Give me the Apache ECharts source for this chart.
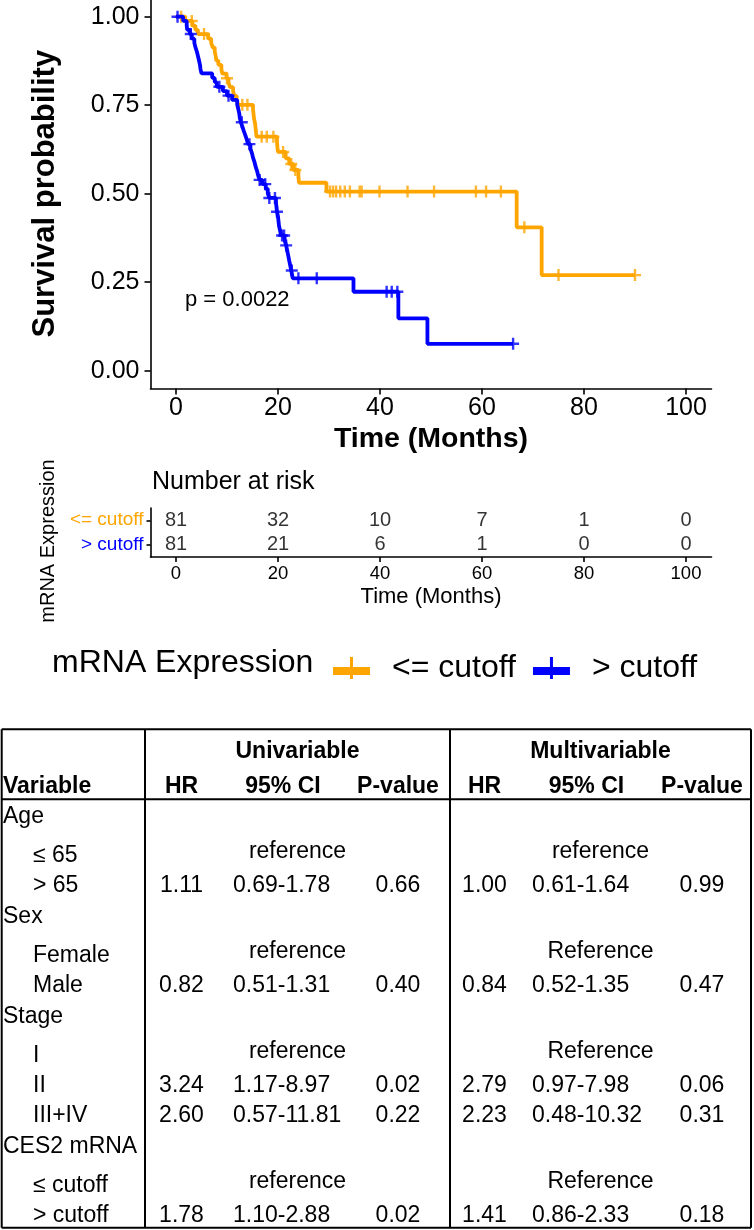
<!DOCTYPE html>
<html><head><meta charset="utf-8">
<script src="https://cdn.jsdelivr.net/npm/echarts@6/dist/echarts.min.js"></script>
<style>html,body{margin:0;padding:0;background:#fff}#c{width:754px;height:1230px}</style>
</head><body><div id="c"></div>
<script>
// ---------------- DATA ----------------
const strata = ['<= cutoff', '> cutoff'];
const strataColors = ['#FFA500', '#0000FF'];
const legendTitle = 'mRNA Expression';

// "<= cutoff" group: KM event times (months) and survival after each event
const lowEventTimes = [1.8, 3.2, 3.8, 4.3, 6.3, 6.9, 7.2, 7.6, 7.8, 7.9, 8.3, 8.9, 9.1, 9.9, 10.3, 10.6, 11.2, 11.5, 11.9, 12.2,
  15.1, 15.2, 15.3, 15.5, 15.6, 15.7, 15.8, 19.8, 19.9, 20.0, 21.5, 22.2, 23.0, 24.0, 24.1, 29.5, 66.8, 71.7];
const lowSurv = [0.988, 0.975, 0.963, 0.951, 0.938, 0.926, 0.913, 0.901, 0.888, 0.876, 0.864, 0.851, 0.839, 0.826, 0.814, 0.801, 0.789, 0.776, 0.764, 0.751,
  0.738, 0.725, 0.712, 0.699, 0.686, 0.673, 0.661, 0.645, 0.630, 0.618, 0.600, 0.584, 0.567, 0.550, 0.531, 0.506, 0.405, 0.270];
const lowCensor = [1.0, 3.1, 5.5, 10.0, 13.0, 14.0, 16.8, 17.8, 19.1, 21.0, 22.6, 23.4, 30.2, 30.8, 31.4, 32.2, 33.1, 34.1,
  36.0, 36.4, 39.9, 45.4, 50.6, 58.8, 60.8, 63.7, 68.3, 75.0, 90.0];

// "> cutoff" group
const highEventTimes = [1.4, 2.1, 2.2, 2.7, 3.1, 3.6, 3.8, 4.1, 4.3, 4.5, 4.7, 4.8, 5.0, 7.1, 7.6, 8.0, 9.2, 10.0, 11.0, 12.0,
  12.2, 12.4, 12.5, 12.7, 13.0, 13.3, 13.6, 13.9, 14.1, 14.6, 14.9, 15.1, 15.4, 15.6, 15.9, 16.1, 16.4, 16.9, 17.6, 18.0,
  18.3, 19.6, 19.7, 19.8, 20.0, 20.1, 20.2, 20.4, 20.6, 21.3, 21.6, 21.8, 22.0, 22.2, 22.4, 22.6, 22.9, 34.8, 43.6, 49.3];
const highSurv = [0.988, 0.975, 0.963, 0.951, 0.938, 0.926, 0.914, 0.901, 0.889, 0.877, 0.864, 0.852, 0.840, 0.827, 0.815, 0.802, 0.790, 0.777, 0.765, 0.752,
  0.740, 0.727, 0.715, 0.702, 0.690, 0.677, 0.665, 0.652, 0.640, 0.627, 0.614, 0.602, 0.589, 0.577, 0.564, 0.552, 0.539, 0.527, 0.514, 0.501,
  0.488, 0.475, 0.462, 0.449, 0.436, 0.422, 0.409, 0.396, 0.382, 0.368, 0.354, 0.340, 0.326, 0.311, 0.297, 0.283, 0.261, 0.223, 0.148, 0.076];
const highCensor = [0.3, 2.9, 8.5, 10.3, 12.9, 14.4, 16.4, 17.5, 18.3, 19.4, 19.8, 20.8, 21.2, 21.6, 22.7, 24.0, 27.6, 41.3, 42.3, 43.4, 66.1];

const xTicks = [0, 20, 40, 60, 80, 100];
const yTicks = [0, 0.25, 0.5, 0.75, 1];
const pValueText = 'p = 0.0022';

// number at risk
const riskTimes = [0, 20, 40, 60, 80, 100];
const riskLow = [81, 32, 10, 7, 1, 0];
const riskHigh = [81, 21, 6, 1, 0, 0];

// Cox regression table
const tableVars = ['Age', '≤ 65', '> 65', 'Sex', 'Female', 'Male', 'Stage', 'I', 'II', 'III+IV', 'CES2 mRNA', '≤ cutoff', '> cutoff'];
const tableIsGroup = [1, 0, 0, 1, 0, 0, 1, 0, 0, 0, 1, 0, 0];
const uniRef = ['', 'reference', '', '', 'reference', '', '', 'reference', '', '', '', 'reference', ''];
const uniHR = ['', '', '1.11', '', '', '0.82', '', '', '3.24', '2.60', '', '', '1.78'];
const uniCI = ['', '', '0.69-1.78', '', '', '0.51-1.31', '', '', '1.17-8.97', '0.57-11.81', '', '', '1.10-2.88'];
const uniP = ['', '', '0.66', '', '', '0.40', '', '', '0.02', '0.22', '', '', '0.02'];
const multiRef = ['', 'reference', '', '', 'Reference', '', '', 'Reference', '', '', '', 'Reference', ''];
const multiHR = ['', '', '1.00', '', '', '0.84', '', '', '2.79', '2.23', '', '', '1.41'];
const multiCI = ['', '', '0.61-1.64', '', '', '0.52-1.35', '', '', '0.97-7.98', '0.48-10.32', '', '', '0.86-2.33'];
const multiP = ['', '', '0.99', '', '', '0.47', '', '', '0.06', '0.31', '', '', '0.18'];
const groupHeaders = ['Univariable', 'Multivariable'];
const colHeaders = ['Variable', 'HR', '95% CI', 'P-value'];

// ---------------- HELPERS ----------------
const FONT = '"Liberation Sans", Arial, Helvetica, sans-serif';
function kmLine(times, surv, censor) {
  const pts = [[0, 1]];
  for (let i = 0; i < times.length; i++) pts.push([times[i], surv[i]]);
  const tEnd = Math.max(times[times.length - 1], ...censor);
  pts.push([tEnd, surv[surv.length - 1]]);
  return pts;
}
function survAt(times, surv, t) {
  let s = 1;
  for (let i = 0; i < times.length; i++) if (times[i] <= t) s = surv[i];
  return s;
}
function censorPts(times, surv, censor) {
  return censor.map(t => [t, survAt(times, surv, t)]);
}
const plusSymbol = 'path://M0,4H10V6H0Z M4,0H6V10H4Z';
const legendIcon = 'path://M0,10H37V18H0Z M17,0H20V22H17Z';

// ---------------- GRAPHICS (text + table) ----------------
const g = [];
function txt(x, y, text, o) {
  o = o || {};
  g.push({
    type: 'text', x: x, y: y, rotation: o.rotation || 0, silent: true,
    style: {
      text: text, fill: o.color || '#000', fontSize: o.size || 23, fontFamily: FONT,
      fontWeight: o.bold ? 'bold' : 'normal',
      align: o.align || 'left', textAlign: o.align || 'left',
      verticalAlign: 'middle', textVerticalAlign: 'middle'
    }
  });
}
function line(x1, y1, x2, y2, w) {
  g.push({ type: 'line', silent: true, shape: { x1, y1, x2, y2 }, style: { stroke: '#000', lineWidth: w || 2 } });
}

// p-value annotation
txt(185, 300, pValueText, { size: 22 });
// risk table texts
txt(152, 482, 'Number at risk', { size: 25 });
txt(48, 541, legendTitle, { size: 20, rotation: Math.PI / 2, align: 'center' });
// legend title
txt(52, 663, legendTitle, { size: 32 });

// table frame
const TL = 1.7, TR = 751, TT = 729.3, TH = 799.3, TB = 1227.7, V1 = 145, V2 = 450;
line(TL, TT, TR, TT); line(TL, TB, TR, TB); line(TL, TH, TR, TH);
line(TL, TT, TL, TB); line(TR, TT, TR, TB); line(V1, TT, V1, TB); line(V2, TT, V2, TB);

const colX = { uniHR: 181.5, uniCI: 233, uniP: 398, multiHR: 484.5, multiCI: 532, multiP: 702, uniMid: 297.5, multiMid: 600.5 };
txt(colX.uniMid, 751.7, groupHeaders[0], { bold: true, align: 'center' });
txt(colX.multiMid, 751.7, groupHeaders[1], { bold: true, align: 'center' });
const hy = 787;
txt(3, hy, colHeaders[0], { bold: true });
txt(colX.uniHR, hy, colHeaders[1], { bold: true, align: 'center' });
txt(283, hy, colHeaders[2], { bold: true, align: 'center' });
txt(colX.uniP, hy, colHeaders[3], { bold: true, align: 'center' });
txt(colX.multiHR, hy, colHeaders[1], { bold: true, align: 'center' });
txt(586.5, hy, colHeaders[2], { bold: true, align: 'center' });
txt(colX.multiP, hy, colHeaders[3], { bold: true, align: 'center' });

let ry = 817;
for (let i = 0; i < tableVars.length; i++) {
  if (i > 0) {
    if (tableIsGroup[i]) ry += 31;
    else if (tableIsGroup[i - 1]) ry += 39;
    else ry += 30;
  }
  txt(tableIsGroup[i] ? 3 : 33, ry, tableVars[i]);
  if (uniRef[i]) txt(colX.uniMid, ry - 4, uniRef[i], { align: 'center' });
  if (multiRef[i]) txt(colX.multiMid, ry - 4, multiRef[i], { align: 'center' });
  if (uniHR[i]) txt(colX.uniHR, ry, uniHR[i], { align: 'center' });
  if (uniCI[i]) txt(colX.uniCI, ry, uniCI[i]);
  if (uniP[i]) txt(colX.uniP, ry, uniP[i], { align: 'center' });
  if (multiHR[i]) txt(colX.multiHR, ry, multiHR[i], { align: 'center' });
  if (multiCI[i]) txt(colX.multiCI, ry, multiCI[i]);
  if (multiP[i]) txt(colX.multiP, ry, multiP[i], { align: 'center' });
}

// ---------------- CHART ----------------
const chart = echarts.init(document.getElementById('c'), null, { renderer: 'canvas' });
const axisBlack = () => ({ show: true, onZero: false, lineStyle: { color: '#000', width: 1.6 } });
const tickBlack = (vals, len) => {
  const o = { show: true, length: len, lineStyle: { color: '#000', width: 1.6 } };
  if (vals) o.customValues = vals;
  return o;
};

const riskData = [];
riskTimes.forEach((t, i) => {
  riskData.push([t, strata[0], riskLow[i]]);
  riskData.push([t, strata[1], riskHigh[i]]);
});

chart.setOption({
  animation: false,
  backgroundColor: '#fff',
  textStyle: { fontFamily: FONT },
  grid: [
    { left: 150.5, right: 42.5, top: -1, height: 389.4, outerBoundsMode: 'none', containLabel: false },
    { left: 150.5, right: 42.5, top: 508, height: 49, outerBoundsMode: 'none', containLabel: false }
  ],
  xAxis: [
    {
      gridIndex: 0, type: 'value', min: -5, max: 105,
      axisLine: axisBlack(), splitLine: { show: false },
      axisTick: tickBlack(xTicks, 6),
      axisLabel: { customValues: xTicks, color: '#000', fontSize: 25, margin: 7 },
      name: 'Time (Months)', nameLocation: 'middle', nameGap: 36,
      nameTextStyle: { fontSize: 28.5, fontWeight: 'bold', color: '#000' }
    },
    {
      gridIndex: 1, type: 'value', min: -5, max: 105,
      axisLine: axisBlack(), splitLine: { show: false },
      axisTick: tickBlack(riskTimes, 5),
      axisLabel: { customValues: riskTimes, color: '#000', fontSize: 18.5, margin: 7 },
      name: 'Time (Months)', nameLocation: 'middle', nameGap: 29,
      nameTextStyle: { fontSize: 22, color: '#000' }
    }
  ],
  yAxis: [
    {
      gridIndex: 0, type: 'value', min: -0.05, max: 1.05,
      axisLine: axisBlack(), splitLine: { show: false },
      axisTick: tickBlack(yTicks, 6),
      axisLabel: { customValues: yTicks, color: '#000', fontSize: 25, margin: 11, formatter: v => v.toFixed(2) },
      name: 'Survival probability', nameLocation: 'middle', nameGap: 90,
      nameTextStyle: { fontSize: 31, fontWeight: 'bold', color: '#000' }
    },
    {
      gridIndex: 1, type: 'category', data: [strata[1], strata[0]],
      axisLine: axisBlack(), splitLine: { show: false },
      axisTick: { show: true, length: 4, alignWithLabel: true, interval: 0, lineStyle: { color: '#000', width: 1.6 } },
      axisLabel: { fontSize: 19, margin: 7, interval: 0, color: v => v === strata[0] ? strataColors[0] : strataColors[1] }
    }
  ],
  legend: {
    left: 333, top: 652, padding: 0, itemGap: 17, itemWidth: 37, itemHeight: 22,
    textStyle: { fontSize: 32, color: '#000', padding: [0, 0, 0, 17] },
    data: [{ name: strata[0], icon: legendIcon }, { name: strata[1], icon: legendIcon }],
    selectedMode: false
  },
  series: [
    {
      name: strata[0], type: 'line', xAxisIndex: 0, yAxisIndex: 0, step: 'end', symbol: 'none',
      color: strataColors[0], lineStyle: { width: 3.8, color: strataColors[0] },
      data: kmLine(lowEventTimes, lowSurv, lowCensor), z: 3
    },
    {
      name: strata[1], type: 'line', xAxisIndex: 0, yAxisIndex: 0, step: 'end', symbol: 'none',
      color: strataColors[1], lineStyle: { width: 3.8, color: strataColors[1] },
      data: kmLine(highEventTimes, highSurv, highCensor), z: 4
    },
    {
      name: strata[0], type: 'scatter', xAxisIndex: 0, yAxisIndex: 0, symbol: plusSymbol, symbolSize: 12,
      itemStyle: { color: strataColors[0] }, data: censorPts(lowEventTimes, lowSurv, lowCensor), z: 3
    },
    {
      name: strata[1], type: 'scatter', xAxisIndex: 0, yAxisIndex: 0, symbol: plusSymbol, symbolSize: 12,
      itemStyle: { color: strataColors[1] }, data: censorPts(highEventTimes, highSurv, highCensor), z: 4
    },
    {
      name: 'risk', type: 'scatter', xAxisIndex: 1, yAxisIndex: 1, symbolSize: 1,
      itemStyle: { color: 'rgba(0,0,0,0)' }, silent: true,
      label: { show: true, position: 'inside', formatter: p => String(p.value[2]), color: '#000', fontSize: 20, fontFamily: FONT },
      data: riskData
    }
  ],
  graphic: { elements: g }
});
</script>
</body></html>
